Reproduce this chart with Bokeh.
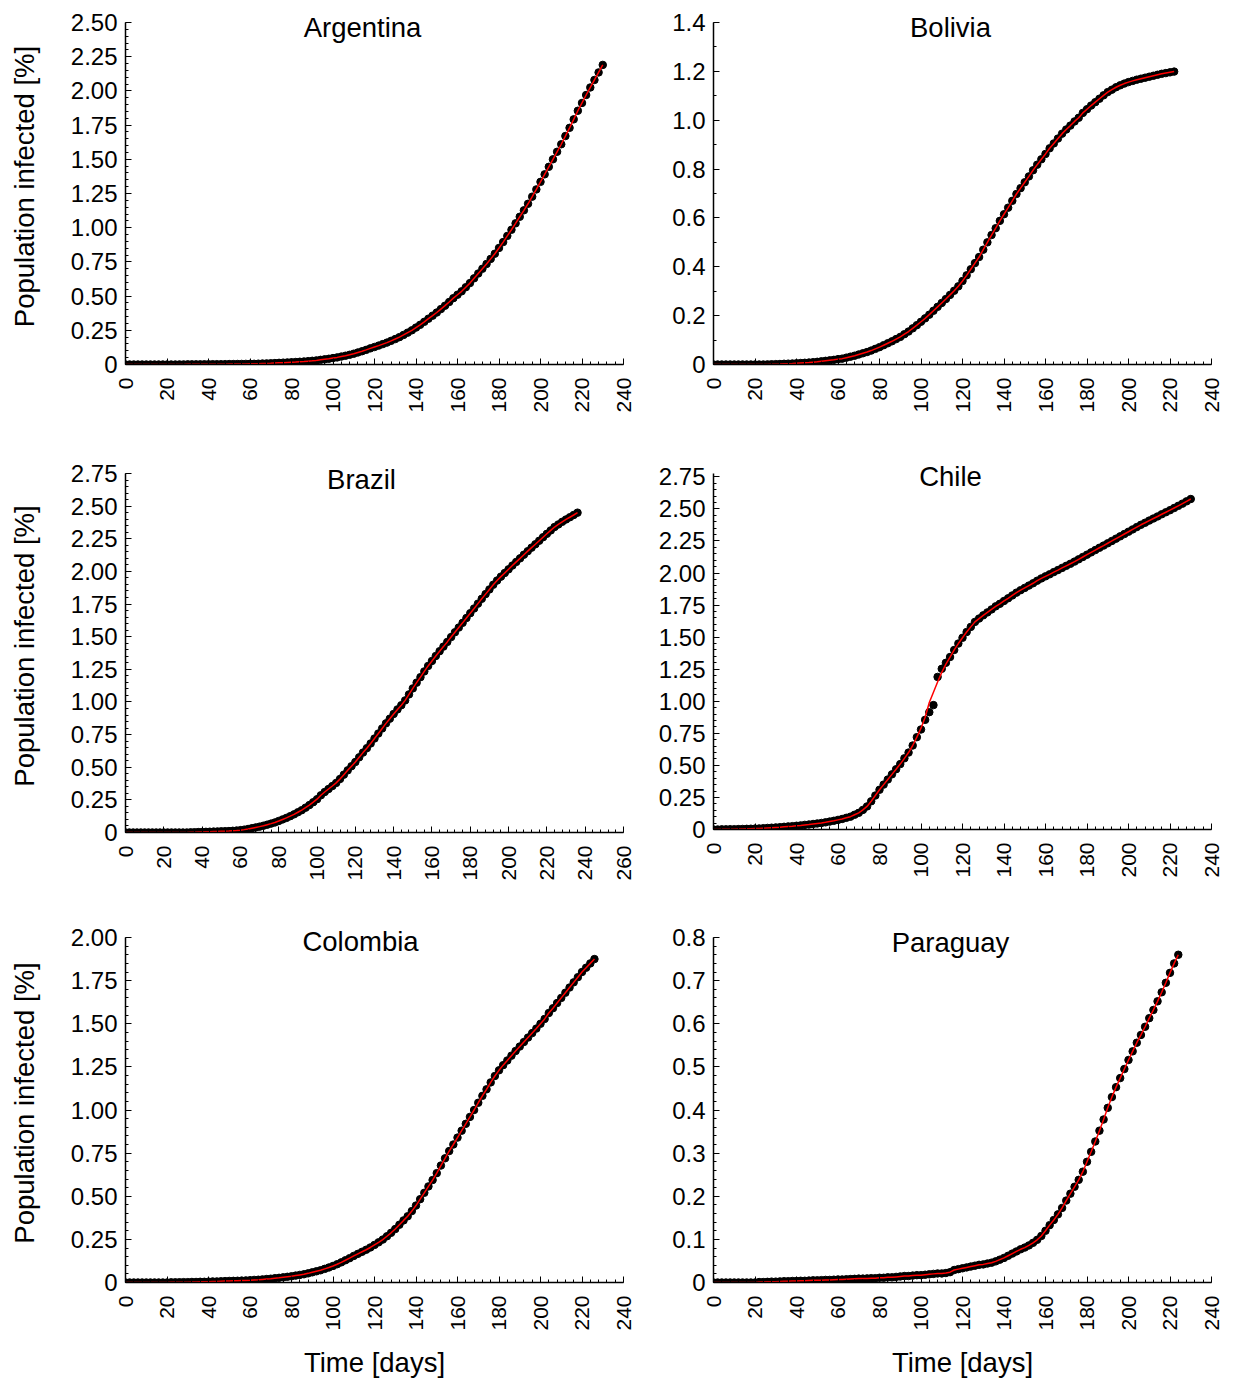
import math
import numpy as np
from bokeh.plotting import figure
from bokeh.layouts import column, row
from bokeh.models import FixedTicker, CustomJSTickFormatter, Label
from bokeh.embed import file_html
from bokeh.resources import INLINE

# ---------------- data (values every 2 days, % of population) ----------------
argentina = [0, 0, 0, 0, 0, 0, 0, 0, 0, 0,
             0, 0, 0, 0.0005, 0.0005, 0.001, 0.001, 0.001, 0.001, 0.0015,
             0.0015, 0.002, 0.002, 0.002, 0.0025, 0.003, 0.003, 0.0035, 0.004, 0.0045,
             0.005, 0.005, 0.006, 0.007, 0.008, 0.009, 0.0105, 0.012, 0.0135, 0.015,
             0.0165, 0.018, 0.020, 0.022, 0.0245, 0.027, 0.030, 0.034, 0.038, 0.042,
             0.047, 0.052, 0.058, 0.064, 0.071, 0.079, 0.088, 0.097, 0.107, 0.118,
             0.128, 0.138, 0.149, 0.160, 0.173, 0.186, 0.200, 0.216, 0.233, 0.250,
             0.270, 0.290, 0.312, 0.335, 0.357, 0.380, 0.405, 0.430, 0.457, 0.485,
             0.510, 0.535, 0.565, 0.595, 0.630, 0.665, 0.700, 0.735, 0.772, 0.810,
             0.852, 0.895, 0.940, 0.985, 1.032, 1.080, 1.127, 1.175, 1.227, 1.280,
             1.335, 1.390, 1.445, 1.500, 1.555, 1.610, 1.670, 1.730, 1.792, 1.855,
             1.912, 1.970, 2.025, 2.080, 2.135, 2.190]

bolivia = [0, 0, 0, 0, 0, 0, 0, 0, 0, 0,
           0, 0, 0, 0.0005, 0.001, 0.0015, 0.002, 0.003, 0.0035, 0.004,
           0.005, 0.006, 0.007, 0.008, 0.0095, 0.011, 0.013, 0.015, 0.017, 0.019,
           0.022, 0.024, 0.028, 0.032, 0.036, 0.041, 0.046, 0.051, 0.057, 0.064,
           0.071, 0.079, 0.087, 0.095, 0.104, 0.113, 0.124, 0.135, 0.148, 0.161,
           0.175, 0.189, 0.204, 0.220, 0.236, 0.252, 0.268, 0.285, 0.302, 0.320,
           0.342, 0.365, 0.390, 0.415, 0.440, 0.470, 0.500, 0.530, 0.558, 0.588,
           0.615, 0.642, 0.670, 0.698, 0.722, 0.746, 0.770, 0.795, 0.818, 0.840,
           0.862, 0.885, 0.905, 0.925, 0.945, 0.962, 0.978, 0.995, 1.010, 1.030,
           1.045, 1.060, 1.074, 1.088, 1.102, 1.115, 1.125, 1.135, 1.143, 1.150,
           1.156, 1.161, 1.166, 1.170, 1.174, 1.178, 1.182, 1.186, 1.190, 1.193,
           1.196, 1.199]

brazil = [0, 0, 0, 0, 0, 0, 0, 0, 0, 0,
          0, 0, 0, 0, 0, 0, 0, 0.001, 0.002, 0.003,
          0.004, 0.005, 0.006, 0.007, 0.008, 0.009, 0.010, 0.011, 0.013, 0.015,
          0.018, 0.022, 0.027, 0.033, 0.039, 0.045, 0.052, 0.060, 0.068, 0.077,
          0.088, 0.100, 0.112, 0.125, 0.139, 0.155, 0.171, 0.190, 0.210, 0.232,
          0.255, 0.285, 0.310, 0.333, 0.356, 0.380, 0.410, 0.443, 0.476, 0.508,
          0.540, 0.576, 0.612, 0.646, 0.682, 0.720, 0.758, 0.797, 0.836, 0.872,
          0.908, 0.943, 0.975, 1.012, 1.058, 1.104, 1.148, 1.190, 1.234, 1.276,
          1.314, 1.352, 1.389, 1.424, 1.460, 1.497, 1.534, 1.570, 1.606, 1.643,
          1.680, 1.716, 1.753, 1.790, 1.826, 1.862, 1.898, 1.930, 1.960, 1.988,
          2.016, 2.045, 2.073, 2.100, 2.128, 2.155, 2.182, 2.208, 2.235, 2.262,
          2.288, 2.314, 2.340, 2.360, 2.380, 2.398, 2.415, 2.432, 2.450]

chile = [0, 0, 0.001, 0.001, 0.002, 0.002, 0.003, 0.004, 0.005, 0.006,
         0.007, 0.008, 0.010, 0.012, 0.014, 0.016, 0.018, 0.021, 0.024, 0.026,
         0.029, 0.032, 0.036, 0.039, 0.043, 0.047, 0.051, 0.056, 0.062, 0.068,
         0.075, 0.082, 0.091, 0.100, 0.115, 0.130, 0.153, 0.180, 0.220, 0.265,
         0.310, 0.350, 0.390, 0.430, 0.470, 0.510, 0.555, 0.600, 0.655, 0.720,
         0.780, 0.855, 0.915, 0.970, 1.190, 1.253, 1.300, 1.345, 1.400, 1.450,
         1.495, 1.540, 1.580, 1.619, 1.645, 1.670, 1.693, 1.716, 1.740, 1.760,
         1.782, 1.803, 1.825, 1.847, 1.866, 1.884, 1.902, 1.920, 1.940, 1.958,
         1.974, 1.990, 2.007, 2.023, 2.040, 2.056, 2.072, 2.089, 2.107, 2.125,
         2.143, 2.161, 2.179, 2.197, 2.214, 2.232, 2.250, 2.268, 2.286, 2.304,
         2.322, 2.340, 2.358, 2.376, 2.392, 2.409, 2.425, 2.441, 2.458, 2.474,
         2.490, 2.507, 2.524, 2.541, 2.559, 2.577]

chile_fit = [0, 0, 0.001, 0.001, 0.002, 0.002, 0.003, 0.004, 0.005, 0.006,
             0.007, 0.008, 0.010, 0.012, 0.014, 0.016, 0.018, 0.021, 0.024, 0.026,
             0.029, 0.032, 0.036, 0.039, 0.043, 0.047, 0.051, 0.056, 0.062, 0.068,
             0.075, 0.082, 0.091, 0.100, 0.115, 0.130, 0.153, 0.180, 0.220, 0.265,
             0.310, 0.350, 0.390, 0.430, 0.470, 0.510, 0.555, 0.600, 0.655, 0.720,
             0.790, 0.875, 0.990, 1.070, 1.150, 1.225, 1.290, 1.345, 1.400, 1.450,
             1.495, 1.540, 1.580, 1.619, 1.645, 1.670, 1.693, 1.716, 1.740, 1.760,
             1.782, 1.803, 1.825, 1.847, 1.866, 1.884, 1.902, 1.920, 1.940, 1.958,
             1.974, 1.990, 2.007, 2.023, 2.040, 2.056, 2.072, 2.089, 2.107, 2.125,
             2.143, 2.161, 2.179, 2.197, 2.214, 2.232, 2.250, 2.268, 2.286, 2.304,
             2.322, 2.340, 2.358, 2.376, 2.392, 2.409, 2.425, 2.441, 2.458, 2.474,
             2.490, 2.507, 2.524, 2.541, 2.559, 2.577]

colombia = [0, 0, 0, 0, 0, 0, 0, 0, 0, 0,
            0, 0.001, 0.001, 0.0015, 0.002, 0.002, 0.003, 0.003, 0.004, 0.004,
            0.005, 0.006, 0.006, 0.007, 0.008, 0.009, 0.0095, 0.010, 0.011, 0.012,
            0.013, 0.015, 0.016, 0.018, 0.020, 0.022, 0.025, 0.027, 0.030, 0.033,
            0.036, 0.040, 0.044, 0.048, 0.053, 0.059, 0.065, 0.071, 0.079, 0.087,
            0.096, 0.106, 0.117, 0.129, 0.141, 0.154, 0.166, 0.178, 0.190, 0.203,
            0.218, 0.233, 0.249, 0.268, 0.288, 0.310, 0.335, 0.360, 0.384, 0.414,
            0.446, 0.483, 0.520, 0.557, 0.594, 0.634, 0.678, 0.720, 0.762, 0.800,
            0.840, 0.880, 0.920, 0.960, 1.000, 1.042, 1.082, 1.120, 1.160, 1.197,
            1.230, 1.260, 1.287, 1.315, 1.342, 1.368, 1.394, 1.420, 1.446, 1.472,
            1.500, 1.528, 1.562, 1.590, 1.620, 1.650, 1.680, 1.710, 1.740, 1.770,
            1.800, 1.825, 1.850, 1.875]

paraguay = [0, 0, 0, 0, 0, 0, 0, 0, 0, 0,
            0, 0.001, 0.001, 0.0015, 0.002, 0.002, 0.0025, 0.003, 0.003, 0.0035,
            0.0035, 0.004, 0.004, 0.0045, 0.005, 0.005, 0.0055, 0.006, 0.006, 0.0065,
            0.007, 0.007, 0.0075, 0.008, 0.0085, 0.009, 0.009, 0.0095, 0.010, 0.010,
            0.011, 0.011, 0.012, 0.012, 0.013, 0.014, 0.015, 0.015, 0.016, 0.017,
            0.017, 0.018, 0.019, 0.020, 0.021, 0.021, 0.022, 0.024, 0.029, 0.031,
            0.033, 0.035, 0.037, 0.039, 0.041, 0.042, 0.044, 0.046, 0.049, 0.053,
            0.057, 0.062, 0.067, 0.072, 0.077, 0.081, 0.086, 0.092, 0.099, 0.108,
            0.120, 0.133, 0.145, 0.158, 0.173, 0.190, 0.206, 0.222, 0.238, 0.257,
            0.280, 0.303, 0.327, 0.352, 0.378, 0.405, 0.430, 0.453, 0.474, 0.495,
            0.516, 0.536, 0.556, 0.574, 0.593, 0.613, 0.632, 0.652, 0.673, 0.695,
            0.718, 0.740, 0.760]

# tick label sets
x_ticks_240 = [0, 20, 40, 60, 80, 100, 120, 140, 160, 180, 200, 220, 240]
x_ticks_260 = [0, 20, 40, 60, 80, 100, 120, 140, 160, 180, 200, 220, 240, 260]
y_ticks_arg = [0, 0.25, 0.5, 0.75, 1.0, 1.25, 1.5, 1.75, 2.0, 2.25, 2.5]
y_ticks_bol = [0, 0.2, 0.4, 0.6, 0.8, 1.0, 1.2, 1.4]
y_ticks_bra = [0, 0.25, 0.5, 0.75, 1.0, 1.25, 1.5, 1.75, 2.0, 2.25, 2.5, 2.75]
y_ticks_chi = [0, 0.25, 0.5, 0.75, 1.0, 1.25, 1.5, 1.75, 2.0, 2.25, 2.5, 2.75]
y_ticks_col = [0, 0.25, 0.5, 0.75, 1.0, 1.25, 1.5, 1.75, 2.0]
y_ticks_par = [0, 0.1, 0.2, 0.3, 0.4, 0.5, 0.6, 0.7, 0.8]

FONT = "Liberation Sans"
FRAME_W = 498
EXTRA = 14  # px of head-room inside the frame for the title


def panel(name, vals, fit, x_end, x_ticks, y_end, y_ticks, decimals, y_minor_step,
          frame_h, b_top, b_left, b_right, b_bottom, title_off, title_dx,
          ylabel=None, xlabel=None):
    days = list(range(0, 2 * len(vals), 2))
    px_per_unit = frame_h / y_end
    y_top = y_end + EXTRA / px_per_unit
    p = figure(frame_width=FRAME_W, frame_height=frame_h + EXTRA,
               x_range=(0, x_end), y_range=(0, y_top),
               output_backend="svg", toolbar_location=None,
               min_border_top=b_top - EXTRA, min_border_left=b_left,
               min_border_right=b_right, min_border_bottom=b_bottom)
    p.outline_line_color = None
    p.xgrid.visible = False
    p.ygrid.visible = False
    p.background_fill_color = "white"
    p.border_fill_color = "white"

    p.scatter(days, vals, size=7.5, color="black", marker="circle")
    p.line(days, fit, line_color="#ff0000", line_width=1.5)

    x_minor = list(np.arange(0, x_end + 0.1, 4))
    p.xaxis.ticker = FixedTicker(ticks=x_ticks, minor_ticks=x_minor)
    y_minor = list(np.arange(0, y_end + 1e-9, y_minor_step))
    p.yaxis.ticker = FixedTicker(ticks=y_ticks, minor_ticks=y_minor)
    p.yaxis.bounds = (0, y_end)
    p.yaxis.formatter = CustomJSTickFormatter(
        code="return Math.abs(tick) < 1e-9 ? '0' : tick.toFixed(%d);" % decimals)

    for ax in (p.xaxis, p.yaxis):
        ax.axis_line_color = "black"
        ax.axis_line_width = 1.5
        ax.major_tick_in = 6
        ax.major_tick_out = 0
        ax.minor_tick_in = 3
        ax.minor_tick_out = 0
        ax.major_tick_line_color = "black"
        ax.minor_tick_line_color = "black"
        ax.major_label_text_font = FONT
        ax.major_label_text_color = "black"
        ax.axis_label_text_font = FONT
        ax.axis_label_text_font_style = "normal"
        ax.axis_label_text_color = "black"
        ax.axis_label_text_font_size = "27.5px"

    p.xaxis.major_label_orientation = math.pi / 2
    p.xaxis.major_label_text_font_size = "21px"
    p.xaxis.major_label_standoff = 13
    p.yaxis.major_label_text_font_size = "24px"
    p.yaxis.major_label_standoff = 8

    if ylabel:
        p.yaxis.axis_label = ylabel
        p.yaxis.axis_label_standoff = 28
    if xlabel:
        p.xaxis.axis_label = xlabel
        p.xaxis.axis_label_standoff = 13

    tx = title_dx / FRAME_W * x_end
    ty = y_end - title_off / px_per_unit
    p.add_layout(Label(x=tx, y=ty, text=name, text_align="center",
                       text_baseline="alphabetic", text_font=FONT,
                       text_font_size="27.5px", text_color="black"))
    return p


YL = "Population infected [%]"
XL = "Time [days]"

p_arg = panel("Argentina", argentina, argentina, 240, x_ticks_240, 2.5, y_ticks_arg, 2, 0.05,
              342, 22, 125, 26, 56, 4.5, 237, ylabel=YL)
p_bol = panel("Bolivia", bolivia, bolivia, 240, x_ticks_240, 1.4, y_ticks_bol, 1, 0.1,
              342, 22, 64, 14, 56, 4.5, 237)
p_bra = panel("Brazil", brazil, brazil, 260, x_ticks_260, 2.75, y_ticks_bra, 2, 0.05,
              359, 50, 125, 26, 56, 5.5, 236, ylabel=YL)
p_chi = panel("Chile", chile, chile_fit, 240, x_ticks_240, 2.776, y_ticks_chi, 2, 0.05,
              356, 53, 64, 14, 56, 2.5, 237)
p_col = panel("Colombia", colombia, colombia, 240, x_ticks_240, 2.0, y_ticks_col, 2, 0.05,
              345, 52, 125, 26, 96, 3.5, 235, ylabel=YL, xlabel=XL)
p_par = panel("Paraguay", paraguay, paraguay, 240, x_ticks_240, 0.8, y_ticks_par, 1, 0.02,
              345, 52, 64, 14, 96, 4.5, 237, xlabel=XL)

layout = column(row(p_arg, p_bol), row(p_bra, p_chi), row(p_col, p_par))

with open("out.html", "w") as f:
    f.write(file_html(layout, INLINE))
